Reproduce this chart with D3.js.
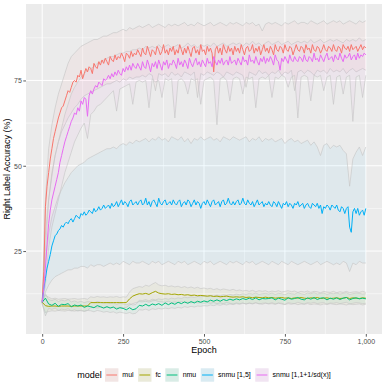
<!DOCTYPE html>
<html>
<head>
<meta charset="utf-8">
<script src="https://cdn.jsdelivr.net/npm/d3@7"></script>
<style>
body { margin: 0; background: #fff; }
text { font-family: "Liberation Sans", Arial, sans-serif; }
</style>
</head>
<body>
<script>
var width = 390;
var height = 390;
var panel = {left: 26, right: 382, top: 4, bottom: 334};

var models = ["mul", "fc", "nmu", "snmu [1,5]", "snmu [1,1+1/sd(x)]"];
var colors = ["#F8766D", "#A3A500", "#00BF7D", "#00B0F6", "#E76BF3"];
var epochs = d3.range(0, 1001, 10);     // ribbons, fc, nmu
var epochsFine = d3.range(0, 1001, 5);  // noisier mean lines
var xTicks = [0, 250, 500, 750, 1000];
var xMinor = [125, 375, 625, 875];
var yTicks = [25, 50, 75];
var yMinor = [12.5, 37.5, 62.5, 87.5];

// mean accuracy, every 5 epochs
var mulMean = [10, 19, 38, 44, 48, 52, 55, 58, 60, 62, 64, 65.5, 67, 67.5, 69, 70.5, 72, 71.5, 73, 74.5,
 75, 74.5, 76.5, 76, 78, 75.5, 77, 78.5, 77.5, 79, 78.5, 77, 80, 79, 78.5, 80.5, 79.5, 81, 80, 81.5,
 80.5, 79.5, 82, 81, 80.5, 82.5, 81, 82, 81.5, 83, 82, 80.5, 83, 82.5, 81.5, 83.5, 82, 83, 82.5, 84,
 83, 82, 84.5, 83, 82.5, 85, 83.5, 82, 84, 83.5, 82.5, 85, 84, 82.5, 83.5, 85.5, 83, 84, 82.5, 84.5,
 83.5, 85, 82.5, 84, 83, 85.5, 84, 82.5, 84.5, 83, 85, 83.5, 82, 84.5, 85, 83, 84, 82.5, 85.5, 83.5,
 84, 82.5, 85, 83.5, 84.5, 83, 77.5, 84, 85, 83, 84.5, 82.5, 85.5, 84, 83, 85, 83.5, 84.5, 82.5, 85,
 83.5, 84.5, 83, 85.5, 84, 82.5, 84.5, 85, 83.5, 84, 85.5, 83, 84.5, 83.5, 85, 82.5, 84, 85.5, 83.5, 84.5,
 83, 85, 84, 82.5, 85.5, 84, 83.5, 85, 84.5, 83, 85.5, 84, 83.5, 85, 84.5, 82.5, 84, 85.5, 84, 83.5,
 85, 84.5, 83, 85.5, 84, 84.5, 83, 85.5, 84, 83.5, 85, 84.5, 83, 84, 85.5, 84, 83.5, 85, 84.5, 83.5,
 85.5, 84, 83.5, 85, 84.5, 83, 85.5, 84.5, 84, 85, 83.5, 85.5, 84, 84.5, 85, 83.5, 84.5, 85.5, 84, 85,
 84.5];

var snmu15Mean = [10, 14, 17, 20, 22, 24, 26.5, 28, 29.5, 30, 31, 31.5, 32.5, 32, 33, 33.5, 33, 34, 34.5, 33.5,
 34.5, 35.5, 35, 34.5, 36, 35.5, 36.5, 35.5, 36, 37, 36.5, 36, 37.5, 36.5, 37, 38, 37, 37.5, 38.5, 37.5,
 38, 38.5, 37.5, 39, 38, 38.5, 39.5, 38, 39, 40, 38.5, 39.5, 39, 38, 39.5, 40, 38.5, 39, 39.5, 38.5,
 39.5, 40, 38.5, 39, 40.5, 38.5, 39.5, 38, 39.5, 40, 39, 38, 40.5, 39, 38.5, 39.5, 40, 38.5, 39, 39.5,
 38.5, 40, 39, 38.5, 39.5, 40, 38, 39, 39.5, 38.5, 40, 39.5, 38, 39, 40, 38.5, 39.5, 39, 37.5, 39,
 39.5, 38.5, 40, 39, 38, 39.5, 40, 38.5, 39, 39.5, 38, 39.5, 40, 38.5, 39, 40.5, 39, 38.5, 39.5, 38.5,
 39.5, 40, 38.5, 39, 40.5, 39, 38.5, 40, 39, 38.5, 39.5, 38, 39, 40, 38.5, 39, 39.5, 38, 39, 38.5,
 39.5, 38.5, 38, 39.5, 39, 38, 39.5, 38.5, 37.5, 39, 38.5, 39.5, 38, 39, 38.5, 37.5, 39, 38.5, 39.5, 38,
 38.5, 39, 37.5, 38.5, 39, 38, 37.5, 39, 38.5, 38, 39, 37.5, 38.5, 36, 38, 37.5, 38.5, 38, 37, 38.5,
 38, 37.5, 38.5, 37, 36.5, 38, 37.5, 36, 37.5, 38, 32, 30.5, 36.5, 37.5, 36, 37.5, 35.5, 36.5, 37, 35.5,
 37.5];

var snmuSdMean = [10, 14, 20, 27, 33, 37, 40, 42, 44, 46, 48, 51, 53, 55, 57, 58.5, 60, 61.5, 63, 64,
 65.5, 65, 67, 66, 69, 68, 70, 69.5, 64.5, 70.5, 72, 71, 72.5, 73.5, 73, 74.5, 74, 73.5, 75.5, 75,
 75.5, 76.5, 75.5, 77, 76, 77.5, 76.5, 78, 77, 76.5, 78.5, 77.5, 79, 78, 79.5, 78, 80, 79, 78.5, 80,
 79, 78, 80.5, 79, 78.5, 81, 79.5, 77.5, 80, 79, 80.5, 78.5, 81, 79.5, 78, 80.5, 79.5, 81, 78.5, 80,
 79.5, 81, 80, 78.5, 81.5, 79.5, 80.5, 79, 81, 80, 78.5, 81.5, 80, 79, 80.5, 81.5, 79.5, 80.5, 79, 81,
 80, 79, 81.5, 80, 80.5, 79, 82, 80.5, 79.5, 81, 80, 81.5, 79.5, 80.5, 81, 79.5, 82, 80, 80.5, 81,
 79.5, 81.5, 80.5, 79.5, 82, 80.5, 81, 79.5, 82.5, 80.5, 81, 80, 82, 80.5, 79.5, 81.5, 80.5, 82, 80, 81.5,
 80.5, 82, 81, 79.5, 82.5, 81, 80.5, 78, 81.5, 80.5, 82, 81, 80, 82.5, 81, 80.5, 82, 81, 80.5, 82,
 81.5, 80.5, 82.5, 81, 80.5, 82, 81.5, 80.5, 83, 81, 81.5, 80.5, 82.5, 81.5, 80.5, 82, 83, 81, 81.5, 82,
 80.5, 82.5, 81.5, 81, 83, 81.5, 80.5, 82.5, 81.5, 82, 83, 81, 82, 82.5, 81, 83, 81.5, 82.5, 82, 83,
 82.5];

// mean accuracy, every 10 epochs
var fcMean = [10,
 9, 8.8, 8.9, 8.9, 8.8, 8.9, 8.9, 8.9, 8.8, 8.9,
 8.9, 8.9, 8.9, 8.9, 9.9, 9.9, 9.9, 9.9, 9.9, 9.9,
 9.9, 9.9, 9.9, 9.9, 9.9, 9.9, 11, 11.8, 12.2, 12.5,
 12.4, 12.6, 12.3, 12.8, 13.2, 12.7, 12.5, 12.4, 12.5, 12.3,
 12.4, 12.2, 12.3, 12.1, 12.2, 12, 12.1, 11.9, 12, 11.9,
 11.8, 11.9, 11.7, 11.8, 11.6, 11.7, 11.8, 11.6, 11.5, 11.6,
 11.5, 11.6, 11.4, 11.5, 11.3, 11.5, 11.4, 11.3, 11.5, 11.3,
 11.4, 11.2, 11.3, 11.4, 11.2, 11.3, 11.1, 11.3, 11.2, 11.4,
 11.2, 11.1, 11.3, 11.2, 11.4, 11.1, 11.2, 11.3, 11.1, 11.2,
 11.3, 11.1, 11.2, 11.4, 11.1, 11.3, 11.2, 11.1, 11.3, 11.2];

var nmuMean = [10,
 11.2, 9.5, 9.1, 9.7, 8.8, 9.4, 9.3, 9.6, 8.7, 9.2,
 8.9, 9.2, 8.5, 8.9, 8.7, 8.4, 9, 8.7, 8.3, 8.7,
 8.3, 8.6, 8, 8.4, 8.2, 7.8, 8.4, 7.8, 8.1, 9.1,
 8.9, 9.4, 8.9, 9.5, 9.2, 9.6, 9.1, 9.8, 9.3, 9.8,
 9.4, 10, 9.6, 10.1, 9.7, 10.2, 9.8, 10.3, 10, 10.4,
 10.1, 10.6, 10.3, 10.7, 10.3, 10.8, 10.5, 10.9, 10.6, 11,
 10.7, 11.1, 10.8, 11.2, 10.8, 11.3, 10.7, 11.1, 11, 11.1,
 11.3, 10.7, 11.2, 10.9, 10.6, 11.3, 10.9, 11.1, 11.4, 10.9,
 10.7, 11.3, 10.9, 11.4, 10.8, 11.2, 11.3, 10.7, 11.2, 10.9,
 11.3, 10.8, 11.2, 11.4, 10.7, 11.1, 11.3, 11, 11.2, 11];

// ribbon bounds, every 10 epochs
var mulUpper = [10.5,
 40, 55, 62, 67, 71, 74, 77, 80, 82, 83,
 84, 85, 85.5, 86, 86.5, 87, 87, 87.5, 88, 88,
 88.5, 89, 89, 89.5, 90, 89.5, 90.5, 90, 90.5, 91,
 90.5, 91, 91.5, 90.5, 91, 91.5, 91, 90.5, 91.5, 91,
 91.5, 91, 91.5, 92, 91, 91.5, 91, 92, 91.5, 91,
 91.5, 92, 91, 91.5, 92, 91.5, 91, 92, 91.5, 92,
 91.5, 91, 92, 91.5, 92, 91, 91.5, 89.5, 91.5, 92,
 91.5, 92, 91.5, 91, 92, 91.5, 92, 92.5, 91.5, 92,
 92, 91.5, 92.5, 92, 91.5, 92, 92.5, 91.5, 92, 92.5,
 92, 92.5, 91.5, 92, 92.5, 92, 91.5, 92.5, 92, 92.5];

var mulLower = [9.5,
 30, 40, 47, 53, 57, 60, 62, 64, 65.5, 67,
 68, 69.5, 70.5, 71, 71.5, 72, 72.5, 73, 73.5, 74,
 74, 74.5, 75, 74.5, 75.5, 75, 76, 75.5, 76, 76,
 76.5, 76, 77, 76.5, 72, 77, 76.5, 77, 76, 77.5,
 76.5, 77, 76, 77.5, 77, 76.5, 77.5, 70, 77, 76.5,
 77.5, 77, 76.5, 77.5, 77, 76, 77.5, 77, 76.5, 77.5,
 77, 76.5, 73, 77.5, 77, 76.5, 78, 77, 77.5, 76.5,
 77.5, 77, 78, 76.5, 77.5, 77, 78, 72, 77.5, 78,
 77, 78, 77.5, 76.5, 78, 77.5, 78, 77, 78.5, 77.5,
 78, 77.5, 78.5, 77, 78, 78.5, 77.5, 78, 78.5, 78];

var fcUpper = [10.5,
 12, 11.5, 11, 11.2, 10.9, 11, 11.1, 10.9, 11, 11.1,
 10.9, 11, 11.1, 10.9, 11.6, 11.4, 11.7, 11.5, 11.6, 11.4,
 11.6, 11.5, 11.7, 11.4, 11.6, 11.5, 13, 14, 14.3, 14.6,
 14.4, 15, 14.7, 15.3, 15.8, 15.1, 14.8, 15, 14.6, 14.8,
 14.5, 14.7, 14.3, 14.6, 14.2, 14.5, 14.1, 14.4, 14, 14.2,
 13.9, 14.1, 13.7, 14, 13.6, 13.9, 13.7, 13.5, 13.8, 13.4,
 13.6, 13.3, 13.5, 13.2, 13.5, 13.1, 13.4, 13.2, 13.4, 13,
 13.3, 13.1, 13.4, 13, 13.2, 13.4, 13.1, 13.3, 12.9, 13.2,
 13, 13.3, 12.9, 13.2, 13.1, 12.8, 13.2, 13, 12.9, 13.2,
 12.8, 13.1, 12.9, 13.2, 12.8, 13, 13.1, 12.9, 13.2, 12.9];

var fcLower = [9.5,
 7, 7.3, 7.5, 7.4, 7.6, 7.5, 7.4, 7.6, 7.5, 7.4,
 7.6, 7.5, 7.4, 7.6, 8.4, 8.5, 8.3, 8.5, 8.4, 8.6,
 8.4, 8.5, 8.3, 8.5, 8.4, 8.5, 9.2, 9.6, 9.9, 10.2,
 10.1, 10.3, 10, 10.4, 10.5, 10.2, 10.1, 10, 10.3, 9.9,
 10.1, 9.9, 10.2, 9.9, 10, 9.8, 10.1, 9.8, 9.9, 9.7,
 9.9, 9.7, 9.9, 9.6, 9.8, 9.6, 9.9, 9.7, 9.5, 9.8,
 9.6, 9.8, 9.5, 9.7, 9.5, 9.8, 9.6, 9.4, 9.7, 9.5,
 9.6, 9.4, 9.7, 9.5, 9.3, 9.6, 9.4, 9.6, 9.3, 9.5,
 9.4, 9.6, 9.3, 9.5, 9.4, 9.2, 9.5, 9.3, 9.6, 9.4,
 9.3, 9.5, 9.4, 9.2, 9.5, 9.3, 9.4, 9.5, 9.2, 9.4];

var nmuUpper = [10.5,
 12.5, 10.8, 10.5, 10.9, 10.2, 10.6, 10.4, 10.8, 10.1, 10.4,
 10, 10.3, 9.9, 10.2, 10.1, 9.8, 10.2, 10, 9.7, 9.9,
 9.6, 9.8, 9.4, 9.7, 9.5, 9.3, 9.6, 9.2, 9.4, 10.6,
 10.5, 10.8, 10.4, 10.9, 10.7, 11, 10.8, 11.1, 10.9, 11.2,
 11, 11.3, 11.1, 11.5, 11.3, 11.6, 11.4, 11.7, 11.6, 11.8,
 11.7, 12, 11.8, 12.1, 11.9, 12.2, 12, 12.3, 12.1, 12.4,
 12.2, 12.5, 12.3, 12.6, 12.4, 12.7, 12.3, 12.5, 12.6, 12.4,
 12.7, 12.3, 12.6, 12.5, 12.2, 12.7, 12.5, 12.4, 12.8, 12.5,
 12.3, 12.7, 12.5, 12.8, 12.4, 12.6, 12.7, 12.3, 12.6, 12.5,
 12.7, 12.4, 12.6, 12.8, 12.3, 12.5, 12.7, 12.6, 12.4, 12.5];

var nmuLower = [9.5,
 6, 8.2, 7.9, 8.3, 7.6, 8, 7.8, 8.1, 7.5, 7.8,
 7.4, 7.7, 7.3, 7.6, 7.5, 7.2, 7.6, 7.4, 7.1, 7.3,
 7, 7.2, 6.8, 7.1, 6.9, 6.7, 7, 6.6, 6.8, 7.8,
 7.7, 8, 7.6, 8.1, 7.9, 8.2, 8, 8.3, 8.1, 8.4,
 8.2, 8.5, 8.3, 8.7, 8.5, 8.8, 8.6, 8.9, 8.8, 9,
 8.9, 9.2, 9, 9.3, 9.1, 9.4, 9.2, 9.5, 9.3, 9.6,
 9.4, 9.7, 9.5, 9.8, 9.6, 9.9, 9.5, 9.7, 9.8, 9.6,
 9.9, 9.5, 9.8, 9.7, 9.4, 9.9, 9.7, 9.6, 10, 9.7,
 9.5, 9.9, 9.7, 10, 9.6, 9.8, 9.9, 9.5, 9.8, 9.7,
 9.9, 9.6, 9.8, 10, 9.5, 9.7, 9.9, 9.8, 9.6, 9.7];

var snmu15Upper = [10.5,
 22, 30, 35, 38, 41, 43, 45, 46.5, 48, 49,
 50, 50.5, 51, 52, 52.5, 53, 53.5, 54, 54.5, 55,
 55, 55.5, 55, 56, 56.5, 56, 57, 56.5, 57.5, 57,
 57.5, 58, 57, 58, 57.5, 58.5, 57.5, 58, 57, 58.5,
 58, 57.5, 58.5, 57, 58, 56.5, 58, 57.5, 58.5, 57.5,
 58, 58.5, 57.5, 58, 57, 58.5, 58, 57.5, 58.5, 58,
 57.5, 58, 58.5, 57, 58, 57.5, 58.5, 57, 58, 57.5,
 58, 57, 57.5, 58, 56.5, 57.5, 58, 57, 57.5, 56.5,
 57, 57.5, 56, 57, 55.5, 53, 56, 56.5, 55, 56,
 55.5, 56, 54.5, 53.5, 44, 52, 54, 55.5, 53, 55.5];

var snmu15Lower = [9.5,
 13, 15, 16.5, 17.5, 18, 18.5, 19, 19.5, 19.5, 20,
 20, 20.5, 20.5, 20, 21, 20.5, 21, 21, 20.5, 21,
 21.5, 21, 21.5, 21, 22, 21.5, 21, 22, 21.5, 21.5,
 22, 21.5, 21, 22, 21.5, 22, 21, 21.5, 22, 21.5,
 21, 22, 21.5, 22, 21, 21.5, 22, 21.5, 21, 22,
 21.5, 22, 21, 21.5, 22, 21.5, 21, 22, 21.5, 22,
 21.5, 21, 22, 21.5, 22, 21, 21.5, 22, 21.5, 21,
 22, 21.5, 21, 22, 21.5, 21, 22, 21.5, 21, 21.5,
 22, 21.5, 21, 21.5, 22, 21, 21.5, 22, 21.5, 21,
 21.5, 21, 22, 21.5, 19, 21.5, 21, 22, 21.5, 21.5];

var snmuSdUpper = [10,
 25, 40, 48, 53, 57, 61, 65, 68, 71, 73,
 74.5, 76, 77, 78, 78.5, 79, 80, 80.5, 81, 81.5,
 82, 82, 82.5, 83, 83, 83.5, 83.5, 84, 84, 84.5,
 84, 85, 84.5, 85, 84.5, 85.5, 84.5, 85, 85.5, 84.5,
 85, 85.5, 84.5, 85, 86, 85, 85.5, 84.5, 85.5, 85,
 85.5, 85, 86, 85, 85.5, 86, 85, 85.5, 86, 85.5,
 86, 85, 86, 85.5, 86.5, 85.5, 86, 85, 86, 86.5,
 85.5, 86, 86.5, 85.5, 86, 86.5, 85.5, 86, 86.5, 86,
 86.5, 86, 87, 86, 86.5, 87, 86, 86.5, 87, 86.5,
 87, 86.5, 86, 87, 86.5, 87, 86.5, 87.5, 86.5, 87];

var snmuSdLower = [9.5,
 15, 26, 32, 36, 40, 44, 48, 51, 54, 57,
 59, 61, 62.5, 58, 65, 66, 67.5, 68, 69, 70,
 71, 72, 66, 72.5, 73, 73.5, 74, 68, 74.5, 75,
 74.5, 75, 67, 75.5, 74.5, 75, 70, 75.5, 75, 75.5,
 64, 75, 75.5, 74.5, 71, 75.5, 75, 75.5, 68, 75,
 75.5, 76, 75, 62, 75.5, 76, 75, 69, 75.5, 76,
 75.5, 71, 76, 75.5, 76, 67, 75.5, 76, 75.5, 76.5,
 70, 76, 75.5, 76.5, 76, 73, 76, 76.5, 64, 76,
 76.5, 76, 69, 76.5, 76, 76.5, 72, 76, 76.5, 68,
 76, 76.5, 71, 76, 76.5, 63, 76, 76.5, 70, 76.5];

var series = [
  {mean: mulMean, meanX: epochsFine, lower: mulLower, upper: mulUpper},
  {mean: fcMean, meanX: epochs, lower: fcLower, upper: fcUpper},
  {mean: nmuMean, meanX: epochs, lower: nmuLower, upper: nmuUpper},
  {mean: snmu15Mean, meanX: epochsFine, lower: snmu15Lower, upper: snmu15Upper},
  {mean: snmuSdMean, meanX: epochsFine, lower: snmuSdLower, upper: snmuSdUpper}
];

var svg = d3.select("body")
    .append("svg")
    .attr("width", width)
    .attr("height", height)
    .style("display", "block")
    .style("background-color", "#ffffff");

var x = d3.scaleLinear().domain([-50, 1050]).range([panel.left, panel.right]);
var y = d3.scaleLinear().domain([0.7, 97.4]).range([panel.bottom, panel.top]);

// panel background
svg.append("rect")
    .attr("x", panel.left)
    .attr("y", panel.top)
    .attr("width", panel.right - panel.left)
    .attr("height", panel.bottom - panel.top)
    .attr("fill", "#ebebeb");

svg.append("clipPath")
    .attr("id", "panelClip")
  .append("rect")
    .attr("x", panel.left)
    .attr("y", panel.top)
    .attr("width", panel.right - panel.left)
    .attr("height", panel.bottom - panel.top);

// grid
var grid = svg.append("g");
grid.selectAll(".xminor").data(xMinor).join("line")
    .attr("x1", d => x(d)).attr("x2", d => x(d))
    .attr("y1", panel.top).attr("y2", panel.bottom)
    .attr("stroke", "#fff").attr("stroke-width", 0.5);
grid.selectAll(".yminor").data(yMinor).join("line")
    .attr("y1", d => y(d)).attr("y2", d => y(d))
    .attr("x1", panel.left).attr("x2", panel.right)
    .attr("stroke", "#fff").attr("stroke-width", 0.5);
grid.selectAll(".xmajor").data(xTicks).join("line")
    .attr("x1", d => x(d)).attr("x2", d => x(d))
    .attr("y1", panel.top).attr("y2", panel.bottom)
    .attr("stroke", "#fff").attr("stroke-width", 1);
grid.selectAll(".ymajor").data(yTicks).join("line")
    .attr("y1", d => y(d)).attr("y2", d => y(d))
    .attr("x1", panel.left).attr("x2", panel.right)
    .attr("stroke", "#fff").attr("stroke-width", 1);

var plot = svg.append("g").attr("clip-path", "url(#panelClip)");

var area = d3.area()
    .x(d => x(d[0]))
    .y0(d => y(d[1]))
    .y1(d => y(d[2]));

var line = d3.line()
    .x(d => x(d[0]))
    .y(d => y(d[1]));

// ribbons first
series.forEach(function(s, k) {
    plot.append("path")
        .attr("d", area(d3.zip(epochs, s.lower, s.upper)))
        .attr("fill", colors[k])
        .attr("fill-opacity", 0.05)
        .attr("stroke", "none");
    [s.upper, s.lower].forEach(function(edge) {
        plot.append("path")
            .attr("d", line(d3.zip(epochs, edge)))
            .attr("fill", "none")
            .attr("stroke", "#c4c4c4")
            .attr("stroke-width", 0.6);
    });
});

// mean lines on top
series.forEach(function(s, k) {
    plot.append("path")
        .attr("d", line(d3.zip(s.meanX, s.mean)))
        .attr("fill", "none")
        .attr("stroke", colors[k])
        .attr("stroke-width", 1)
        .attr("stroke-linejoin", "round");
});

// axes
var xAxis = svg.append("g")
    .attr("transform", `translate(0, ${panel.bottom})`)
    .call(d3.axisBottom(x).tickValues(xTicks).tickSize(2.7).tickPadding(2.2));
var yAxis = svg.append("g")
    .attr("transform", `translate(${panel.left}, 0)`)
    .call(d3.axisLeft(y).tickValues(yTicks).tickSize(2.7).tickPadding(1.5));

[xAxis, yAxis].forEach(function(ax) {
    ax.select(".domain").remove();
    ax.selectAll(".tick line").attr("stroke", "#333333").attr("stroke-width", 0.8);
    ax.selectAll(".tick text")
        .attr("fill", "#4d4d4d")
        .attr("font-size", "7px")
        .attr("font-family", "Liberation Sans, Arial, sans-serif");
});

svg.append("text")
    .attr("transform", `translate(10, ${(panel.top + panel.bottom) / 2}) rotate(-90)`)
    .attr("text-anchor", "middle")
    .attr("font-size", "9px")
    .attr("fill", "#000")
    .text("Right Label Accuracy (%)");

svg.append("text")
    .attr("x", (panel.left + panel.right) / 2)
    .attr("y", 353.3)
    .attr("text-anchor", "middle")
    .attr("font-size", "9px")
    .attr("fill", "#000")
    .text("Epoch");

// legend
var legend = svg.append("g");
legend.append("text")
    .attr("x", 77.3)
    .attr("y", 377.7)
    .attr("font-size", "9px")
    .attr("fill", "#000")
    .text("model");

var keyX = 105;
var keySize = 13.4;
var keyTop = 368.3;
models.forEach(function(m, k) {
    legend.append("rect")
        .attr("x", keyX).attr("y", keyTop)
        .attr("width", keySize).attr("height", keySize)
        .attr("fill", "#f2f2f2");
    legend.append("rect")
        .attr("x", keyX).attr("y", keyTop)
        .attr("width", keySize).attr("height", keySize)
        .attr("fill", colors[k])
        .attr("fill-opacity", 0.1);
    legend.append("line")
        .attr("x1", keyX + 1.3).attr("x2", keyX + keySize - 1.3)
        .attr("y1", keyTop + keySize / 2).attr("y2", keyTop + keySize / 2)
        .attr("stroke", colors[k])
        .attr("stroke-width", 1);
    var label = legend.append("text")
        .attr("x", keyX + 17.3)
        .attr("y", 377.2)
        .attr("font-size", "7px")
        .attr("fill", "#000")
        .text(m);
    keyX = keyX + 17.3 + label.node().getComputedTextLength() + 4.5;
});
</script>
</body>
</html>
